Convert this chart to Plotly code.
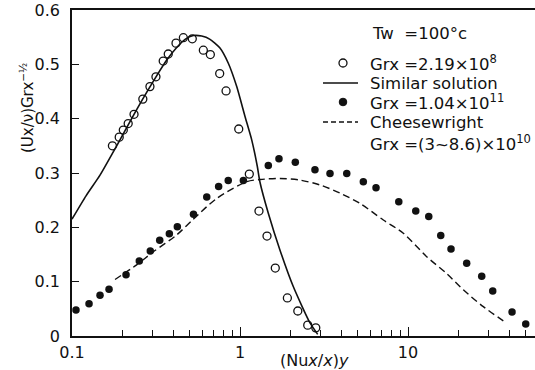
import math
import plotly.graph_objects as go

# ---------------- data ----------------
# Grx = 2.19e8 (open circles)
open_x = [0.174, 0.191, 0.202, 0.216, 0.234, 0.264, 0.291, 0.316, 0.349, 0.374,
          0.416, 0.460, 0.520, 0.605, 0.666, 0.757, 0.826, 0.983, 1.136, 1.297,
          1.448, 1.622, 1.914, 2.208, 2.530, 2.825]
open_y = [0.350, 0.366, 0.379, 0.391, 0.408, 0.436, 0.459, 0.477, 0.506, 0.519,
          0.539, 0.549, 0.547, 0.526, 0.518, 0.483, 0.451, 0.381, 0.298, 0.230,
          0.184, 0.125, 0.070, 0.046, 0.020, 0.015]

# Similar solution (solid line)
sim_x = [0.100, 0.1212, 0.1468, 0.1845, 0.2339, 0.2634, 0.3162, 0.3663, 0.420, 0.471,
         0.5276, 0.5916, 0.663, 0.760, 0.852, 0.956, 1.071, 1.174, 1.268, 1.315,
         1.474, 1.730, 2.075, 2.610, 2.90]
sim_y = [0.215, 0.258, 0.296, 0.350, 0.408, 0.436, 0.477, 0.508, 0.531, 0.546,
         0.553, 0.552, 0.546, 0.530, 0.502, 0.459, 0.404, 0.361, 0.312, 0.283,
         0.226, 0.158, 0.091, 0.024, 0.003]

# Grx = 1.04e11 (filled circles)
fill_x = [0.1056, 0.1263, 0.1468, 0.1661, 0.2097, 0.2515, 0.2924, 0.3327, 0.3796,
          0.4236, 0.5286, 0.634, 0.746, 0.851, 1.047, 1.474, 1.706, 2.134, 2.793,
          3.433, 4.318, 5.42, 6.45, 8.81, 11.12, 13.29, 15.66, 18.03, 22.35,
          27.46, 31.93, 41.6, 50.2]
fill_y = [0.048, 0.0595, 0.0749, 0.086, 0.1128, 0.138, 0.1565, 0.176, 0.188,
          0.201, 0.224, 0.256, 0.275, 0.286, 0.286, 0.314, 0.326, 0.320, 0.306,
          0.299, 0.299, 0.284, 0.273, 0.247, 0.230, 0.220, 0.185, 0.160, 0.134,
          0.110, 0.083, 0.044, 0.022]

# Cheesewright, Grx = (3~8.6)e10 (dashed line)
ch_x = [0.1804, 0.2426, 0.3048, 0.4197, 0.527, 0.726, 1.096, 1.316, 1.730, 2.276,
        2.993, 3.94, 5.18, 7.13, 9.38, 12.92, 16.99, 21.34, 28.07, 38.3]
ch_y = [0.104, 0.131, 0.155, 0.186, 0.215, 0.253, 0.284, 0.288, 0.290, 0.287,
        0.278, 0.263, 0.244, 0.2135, 0.189, 0.146, 0.115, 0.085, 0.054, 0.0245]

x_tick_vals = [0.1, 1, 10]
x_tick_text = ["0.1", "1", "10"]
y_tick_vals = [0, 0.1, 0.2, 0.3, 0.4, 0.5, 0.6]
y_tick_text = ["0", "0.1", "0.2", "0.3", "0.4", "0.5", "0.6"]

legend_title = "Tw  =100°c"
legend_names = ["Grx =2.19×10<sup>8</sup>", "Similar solution",
                "Grx =1.04×10<sup>11</sup>", "Cheesewright",
                "Grx =(3~8.6)×10<sup>10</sup>"]

x_title = "(Nu<i>x</i>/<i>x</i>)<i>y</i>"
y_title = "(Ux/ν)Grx<sup>−½</sup>"

# ---------------- layout geometry ----------------
W, H = 535, 370
ML, MR, MT, MB = 72, 0, 10, 34
PW, PH = W - ML - MR, H - MT - MB
X_MAX = 57.0


def px(x):
    return (x - ML) / PW


def py(y):
    return (H - MB - y) / PH


FONT = "DejaVu Sans"
BLACK = "#111111"
LEG_SIZE = 16.5

fig = go.Figure()

fig.add_trace(go.Scatter(x=sim_x, y=sim_y, mode="lines",
                         line=dict(color=BLACK, width=1.6, shape="spline", smoothing=0.6),
                         showlegend=False))
fig.add_trace(go.Scatter(x=ch_x, y=ch_y, mode="lines",
                         line=dict(color=BLACK, width=1.4, dash="7px,4px",
                                   shape="spline", smoothing=0.8),
                         showlegend=False))
fig.add_trace(go.Scatter(x=open_x, y=open_y, mode="markers",
                         marker=dict(symbol="circle-open", size=8, color=BLACK,
                                     line=dict(width=1.3, color=BLACK)),
                         showlegend=False))
fig.add_trace(go.Scatter(x=fill_x, y=fill_y, mode="markers",
                         marker=dict(symbol="circle", size=7.5, color=BLACK),
                         showlegend=False))

axis_common = dict(showgrid=False, zeroline=False, showline=True,
                   linecolor=BLACK, linewidth=1.5, ticks="inside",
                   tickcolor=BLACK, tickwidth=1.3,
                   tickfont=dict(family=FONT, size=16, color=BLACK))

fig.update_xaxes(type="log", range=[-1, math.log10(X_MAX)],
                 tickvals=x_tick_vals, ticktext=x_tick_text, ticklen=9,
                 mirror=True, ticklabelstandoff=1,
                 minor=dict(ticks="inside", ticklen=6, tickwidth=1.2,
                            tickcolor=BLACK, dtick="D1", showgrid=False),
                 **axis_common)
fig.update_yaxes(range=[0, 0.6], tickvals=y_tick_vals, ticktext=y_tick_text,
                 ticklen=7, ticklabelstandoff=7, **axis_common)

annotations = [
    dict(text=x_title, x=px(314), y=py(360), xref="paper", yref="paper",
         showarrow=False, xanchor="center", yanchor="middle",
         font=dict(family=FONT, size=16, color=BLACK)),
    dict(text=y_title, x=px(27), y=py(108), xref="paper", yref="paper",
         showarrow=False, xanchor="center", yanchor="middle", textangle=-90,
         font=dict(family=FONT, size=15, color=BLACK)),
    dict(text=legend_title, x=px(370), y=py(33), xref="paper", yref="paper",
         showarrow=False, xanchor="left", yanchor="middle",
         font=dict(family=FONT, size=LEG_SIZE, color=BLACK)),
]
leg_y = [63, 83, 102, 122, 143]
for name, yy in zip(legend_names, leg_y):
    annotations.append(dict(text=name, x=px(368), y=py(yy), xref="paper", yref="paper",
                            showarrow=False, xanchor="left", yanchor="middle",
                            font=dict(family=FONT, size=LEG_SIZE, color=BLACK)))

shapes = [
    dict(type="circle", xref="paper", yref="paper", xsizemode="pixel", ysizemode="pixel",
         xanchor=px(343), yanchor=py(63), x0=-4, x1=4, y0=-4, y1=4,
         line=dict(color=BLACK, width=1.3)),
    dict(type="line", xref="paper", yref="paper", x0=px(323), x1=px(358),
         y0=py(83), y1=py(83), line=dict(color=BLACK, width=1.6)),
    dict(type="circle", xref="paper", yref="paper", xsizemode="pixel", ysizemode="pixel",
         xanchor=px(343), yanchor=py(102), x0=-3.8, x1=3.8, y0=-3.8, y1=3.8,
         fillcolor=BLACK, line=dict(color=BLACK, width=1)),
    dict(type="line", xref="paper", yref="paper", x0=px(323), x1=px(358),
         y0=py(122), y1=py(122), line=dict(color=BLACK, width=1.4, dash="5px,3px")),
]

fig.update_layout(width=W, height=H, autosize=False,
                  margin=dict(l=ML, r=MR, t=MT, b=MB, pad=0),
                  paper_bgcolor="white", plot_bgcolor="white",
                  font=dict(family=FONT, size=16, color=BLACK),
                  showlegend=False, annotations=annotations, shapes=shapes)

fig.write_html("out.html", config={"displayModeBar": False},
               post_script="document.body.style.margin='0';document.body.style.overflow='hidden';")
